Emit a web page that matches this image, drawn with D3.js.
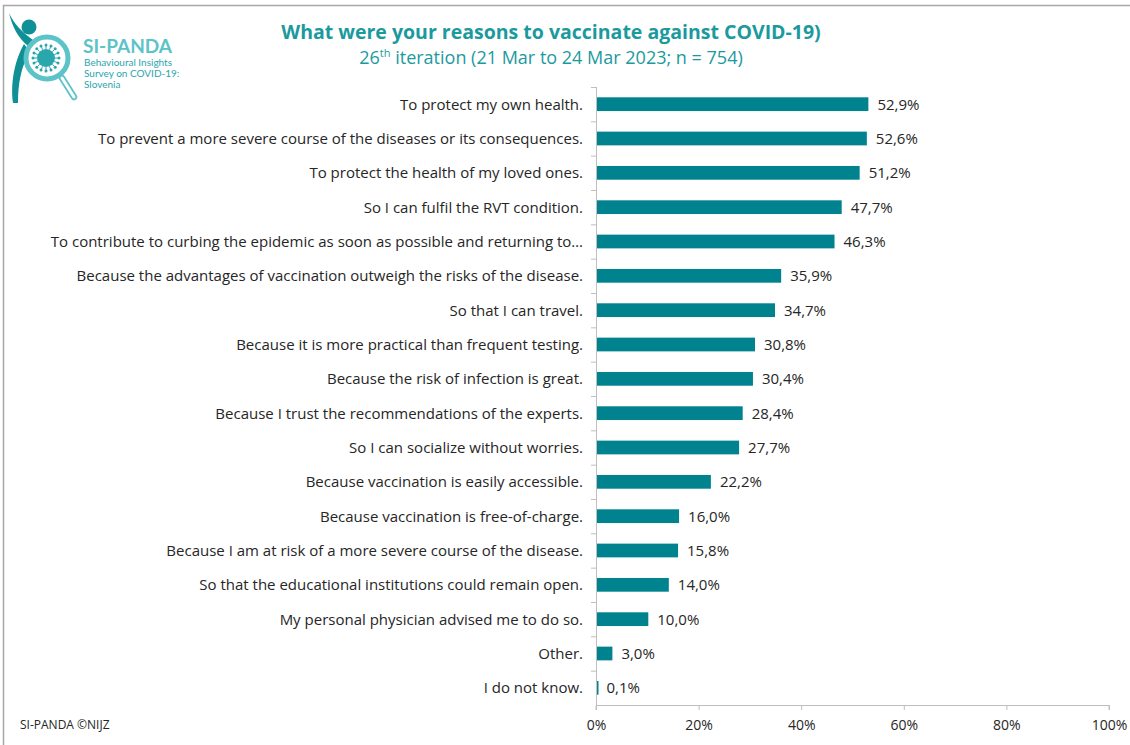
<!DOCTYPE html>
<html>
<head>
<meta charset="utf-8">
<script src="https://cdn.jsdelivr.net/npm/d3@7"></script>
<style>
  html, body { margin: 0; padding: 0; background: #fff; }
  svg { display: block; font-family: "Open Sans", Lato, sans-serif; }
</style>
</head>
<body>
<svg id="chart" width="1130" height="745"></svg>
<script>
// Reasons for vaccination, share of respondents (%)
const categories = [
  "To protect my own health.",
  "To prevent a more severe course of the diseases or its consequences.",
  "To protect the health of my loved ones.",
  "So I can fulfil the RVT condition.",
  "To contribute to curbing the epidemic as soon as possible and returning to…",
  "Because the advantages of vaccination outweigh the risks of the disease.",
  "So that I can travel.",
  "Because it is more practical than frequent testing.",
  "Because the risk of infection is great.",
  "Because I trust the recommendations of the experts.",
  "So I can socialize without worries.",
  "Because vaccination is easily accessible.",
  "Because vaccination is free-of-charge.",
  "Because I am at risk of a more severe course of the disease.",
  "So that the educational institutions could remain open.",
  "My personal physician advised me to do so.",
  "Other.",
  "I do not know."
];
const values = [52.9, 52.6, 51.2, 47.7, 46.3, 35.9, 34.7, 30.8, 30.4, 28.4, 27.7, 22.2, 16.0, 15.8, 14.0, 10.0, 3.0, 0.1];
const xTicks = [0, 20, 40, 60, 80, 100];

const svg = d3.select("#chart");
const teal = "#00838f";
const titleTeal = "#1b9a9e";
const axisGray = "#bfbfbf";
const textColor = "#262626";

// outer frame
svg.append("rect").attr("x", 3.5).attr("y", 5.5).attr("width", 1140).attr("height", 760)
  .attr("fill", "none").attr("stroke", "#a6a6a6").attr("stroke-width", 1.5);

const plot = { left: 596, right: 1109, top: 87, bottom: 705 };

const x = d3.scaleLinear().domain([0, 100]).range([plot.left, plot.right]);
const y = d3.scaleBand().domain(categories).range([plot.top, plot.bottom]).paddingInner(0.6).paddingOuter(0.3);

const fmt = v => d3.format(".1f")(v).replace(".", ",") + "%";

// x axis
const xAxis = d3.axisBottom(x).tickValues(xTicks).tickSize(5).tickFormat(d => d + "%");
const gx = svg.append("g").attr("transform", `translate(0,${plot.bottom})`).call(xAxis);
gx.select(".domain").attr("stroke", axisGray).attr("d", `M${plot.left},5V0.5H${plot.right}V5`);
gx.selectAll(".tick line").attr("stroke", axisGray);
gx.selectAll(".tick text").attr("fill", textColor).attr("font-size", 14)
  .attr("font-family", "'Open Sans', sans-serif").attr("dy", "1.2em");

// y axis line with ticks between categories
const step = (plot.bottom - plot.top) / categories.length;
svg.append("line").attr("x1", plot.left + 0.5).attr("x2", plot.left + 0.5)
  .attr("y1", plot.top).attr("y2", plot.bottom).attr("stroke", axisGray);
svg.append("g").selectAll("line").data(d3.range(categories.length))
  .join("line")
  .attr("x1", plot.left - 5).attr("x2", plot.left)
  .attr("y1", i => plot.top + i * step + 0.5).attr("y2", i => plot.top + i * step + 0.5)
  .attr("stroke", axisGray);

// category labels
svg.append("g").selectAll("text").data(categories).join("text")
  .attr("x", plot.left - 13)
  .attr("y", d => y(d) + y.bandwidth() / 2)
  .attr("dy", "0.36em")
  .attr("text-anchor", "end")
  .attr("font-size", 15)
  .attr("fill", textColor)
  .text(d => d);

// bars
svg.append("g").selectAll("rect").data(values).join("rect")
  .attr("x", x(0) + 1)
  .attr("y", (d, i) => y(categories[i]))
  .attr("width", d => Math.max(1.5, x(d) - x(0)))
  .attr("height", y.bandwidth())
  .attr("fill", teal);

// value labels
svg.append("g").selectAll("text").data(values).join("text")
  .attr("x", d => x(d) + 10)
  .attr("y", (d, i) => y(categories[i]) + y.bandwidth() / 2)
  .attr("dy", "0.36em")
  .attr("font-size", 15)
  .attr("fill", textColor)
  .text(d => fmt(d));

// titles
svg.append("text").attr("x", 551).attr("y", 39).attr("text-anchor", "middle")
  .attr("font-size", 19.5).attr("font-weight", "bold").attr("fill", titleTeal)
  .text("What were your reasons to vaccinate against COVID-19)");
const sub = svg.append("text").attr("x", 551).attr("y", 64).attr("text-anchor", "middle")
  .attr("font-size", 18).attr("fill", titleTeal);
sub.append("tspan").text("26");
sub.append("tspan").attr("font-size", 11).attr("dy", -7).text("th");
sub.append("tspan").attr("dy", 7).text(" iteration (21 Mar to 24 Mar 2023; n = 754)");

// footer
svg.append("text").attr("x", 20).attr("y", 729).attr("font-size", 12).attr("fill", textColor)
  .text("SI-PANDA ©NIJZ");

// logo
const logo = svg.append("g");
const lt = "#0f8f96", lc = "#5cc3c8";
// figure: raised arm, head and body
logo.append("path").attr("d", "M9,13 C12,26 18,38 28,46 L33,40 C22,32 14,24 9,13 Z").attr("fill", lt);
logo.append("circle").attr("cx", 29).attr("cy", 27).attr("r", 7.5).attr("fill", lt);
logo.append("path").attr("d", "M24,44 C16,58 10,80 13,103 L18,103 C18,84 21,66 30,52 Z").attr("fill", lt);
// magnifier
logo.append("circle").attr("cx", 47).attr("cy", 58).attr("r", 21).attr("fill", "#fff").attr("stroke", lc).attr("stroke-width", 5);
logo.append("path").attr("d", "M62,78 L74,97").attr("stroke", lc).attr("stroke-width", 6.5).attr("stroke-linecap", "round");
logo.append("path").attr("d", "M62,78 L74,97").attr("stroke", "#fff").attr("stroke-width", 3).attr("stroke-linecap", "round");
// virus
logo.append("circle").attr("cx", 46).attr("cy", 58).attr("r", 9).attr("fill", "#2aa6ad");
logo.append("g").selectAll("line").data(d3.range(16)).join("line")
  .attr("x1", i => 46 + 9 * Math.cos(i / 16 * 2 * Math.PI))
  .attr("y1", i => 58 + 9 * Math.sin(i / 16 * 2 * Math.PI))
  .attr("x2", i => 46 + 12.5 * Math.cos(i / 16 * 2 * Math.PI))
  .attr("y2", i => 58 + 12.5 * Math.sin(i / 16 * 2 * Math.PI))
  .attr("stroke", "#2aa6ad").attr("stroke-width", 1);
logo.append("g").selectAll("circle").data(d3.range(16)).join("circle")
  .attr("cx", i => 46 + 13 * Math.cos(i / 16 * 2 * Math.PI))
  .attr("cy", i => 58 + 13 * Math.sin(i / 16 * 2 * Math.PI))
  .attr("r", 1.5).attr("fill", "#2aa6ad");
logo.append("text").attr("x", 83).attr("y", 53).attr("font-size", 19).attr("font-weight", "bold")
  .attr("font-family", "Lato, sans-serif").attr("fill", lc).text("SI-PANDA");
logo.append("g").selectAll("text")
  .data(["Behavioural Insights", "Survey on COVID-19:", "Slovenia"]).join("text")
  .attr("x", 84).attr("y", (d, i) => 66 + i * 10.8)
  .attr("font-size", 10).attr("font-family", "Lato, sans-serif")
  .attr("fill", "#2aa6ad").text(d => d);
</script>
</body>
</html>
